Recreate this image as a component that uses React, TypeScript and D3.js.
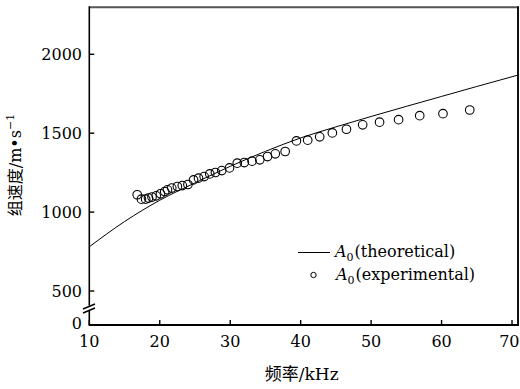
import React from "react";
import * as d3 from "d3";

// theoretical A0 group velocity (kHz, m/s)
const theoFreq = [10, 15, 20, 25, 30, 35, 40, 45, 50, 55, 60, 65, 70.9];
const theoVel = [780, 940, 1075, 1185, 1290, 1385, 1470, 1540, 1606, 1670, 1733, 1796, 1869];

// experimental A0 points
const expFreq = [16.8, 17.4, 18.0, 18.4, 18.9, 19.5, 20.1, 20.7, 21.1, 21.7, 22.5, 23.2, 24.0, 24.8, 25.5, 26.3, 27.1, 27.9, 28.8, 29.9, 31.0, 32.0, 33.1, 34.2, 35.3, 36.4, 37.8, 39.4, 41.0, 42.7, 44.5, 46.5, 48.8, 51.2, 53.9, 56.9, 60.2, 64.0];
const expVel = [1110, 1082, 1082, 1089, 1095, 1103, 1116, 1130, 1141, 1152, 1162, 1168, 1175, 1204, 1215, 1225, 1242, 1251, 1263, 1280, 1310, 1314, 1323, 1331, 1352, 1369, 1384, 1451, 1456, 1477, 1502, 1525, 1553, 1570, 1586, 1611, 1624, 1647];

const xTicks = [10, 20, 30, 40, 50, 60, 70];
const yTicks = [500, 1000, 1500, 2000];

const serif = "'DejaVu Serif', serif";
const cjk = "'Noto Sans CJK SC', sans-serif";

export default function App() {
  const left = 89.3, right = 518, top = 7.3, bottom = 325;
  const x = d3.scaleLinear().domain([10, 70.85]).range([left, right]);
  const y = d3.scaleLinear().domain([500, 2000]).range([291, 54.3]);

  const theo = theoFreq.map((f, i) => [f, theoVel[i]] as [number, number]);
  const line = d3.line<[number, number]>()
    .x(d => x(d[0]))
    .y(d => y(d[1]))
    .curve(d3.curveMonotoneX);

  return (
    <svg width={520} height={389} style={{ position: "absolute", left: 0, top: 0, background: "#fff" }}>
      <defs>
        <clipPath id="plot">
          <rect x={left} y={top} width={right - left} height={bottom - top} />
        </clipPath>
      </defs>

      {/* frame */}
      <line x1={left} x2={right} y1={top} y2={top} stroke="#555" strokeWidth={2} />
      <line x1={right} x2={right} y1={top - 1} y2={bottom + 1} stroke="#111" strokeWidth={2} />
      <line x1={left - 0.7} x2={right + 1} y1={bottom} y2={bottom} stroke="#000" strokeWidth={2} />
      <line x1={left} x2={left} y1={top - 1} y2={305.5} stroke="#000" strokeWidth={1.6} />
      <line x1={left} x2={left} y1={311} y2={bottom} stroke="#000" strokeWidth={1.6} />
      {/* axis break */}
      <line x1={83} y1={309} x2={95} y2={304} stroke="#000" strokeWidth={1.4} />
      <line x1={83} y1={313} x2={95} y2={308} stroke="#000" strokeWidth={1.4} />

      {/* x ticks */}
      {xTicks.map((t, i) => {
        const last = i === xTicks.length - 1;
        return (
          <g key={t}>
            <line x1={x(t)} x2={x(t)} y1={bottom} y2={bottom - 5} stroke="#000" strokeWidth={1.4} />
            <text x={last ? 519.5 : x(t)} y={346.5} textAnchor={last ? "end" : "middle"}
              fontFamily={serif} fontSize={16}>{t}</text>
          </g>
        );
      })}

      {/* y ticks */}
      {yTicks.map(t => (
        <g key={t}>
          <line x1={left} x2={left + 5} y1={y(t)} y2={y(t)} stroke="#000" strokeWidth={1.4} />
          <text x={82} y={y(t) + 6} textAnchor="end" fontFamily={serif} fontSize={16}>{t}</text>
        </g>
      ))}
      <text x={82} y={329} textAnchor="end" fontFamily={serif} fontSize={16}>0</text>

      {/* theoretical curve */}
      <path d={line(theo) ?? ""} fill="none" stroke="#000" strokeWidth={1} clipPath="url(#plot)" />

      {/* experimental points */}
      {expFreq.map((f, i) => (
        <circle key={i} cx={x(f)} cy={y(expVel[i])} r={4.3} fill="none" stroke="#000" strokeWidth={1.1} />
      ))}

      {/* legend */}
      <line x1={298} x2={330} y1={252.5} y2={252.5} stroke="#000" strokeWidth={1} />
      <text x={335} y={257} fontFamily={serif} fontSize={16}>
        <tspan fontStyle="italic">A</tspan>
        <tspan fontSize={11} dy={4}>0</tspan>
        <tspan dy={-4} dx={1}>(theoretical)</tspan>
      </text>
      <circle cx={313.5} cy={275} r={2.7} fill="none" stroke="#000" strokeWidth={1} />
      <text x={336} y={280} fontFamily={serif} fontSize={16}>
        <tspan fontStyle="italic">A</tspan>
        <tspan fontSize={11} dy={4}>0</tspan>
        <tspan dy={-4} dx={1}>(experimental)</tspan>
      </text>

      {/* axis titles */}
      <text x={301.7} y={380} textAnchor="middle" fontSize={17}>
        <tspan fontFamily={cjk}>频率</tspan>
        <tspan fontFamily={serif}>/kHz</tspan>
      </text>
      <text transform="translate(21,165) rotate(-90)" textAnchor="middle" fontSize={16}>
        <tspan fontFamily={cjk}>组速度</tspan>
        <tspan fontFamily={serif}>/m•s</tspan>
        <tspan fontFamily={serif} fontSize={11} dy={-7}>−1</tspan>
      </text>
    </svg>
  );
}
